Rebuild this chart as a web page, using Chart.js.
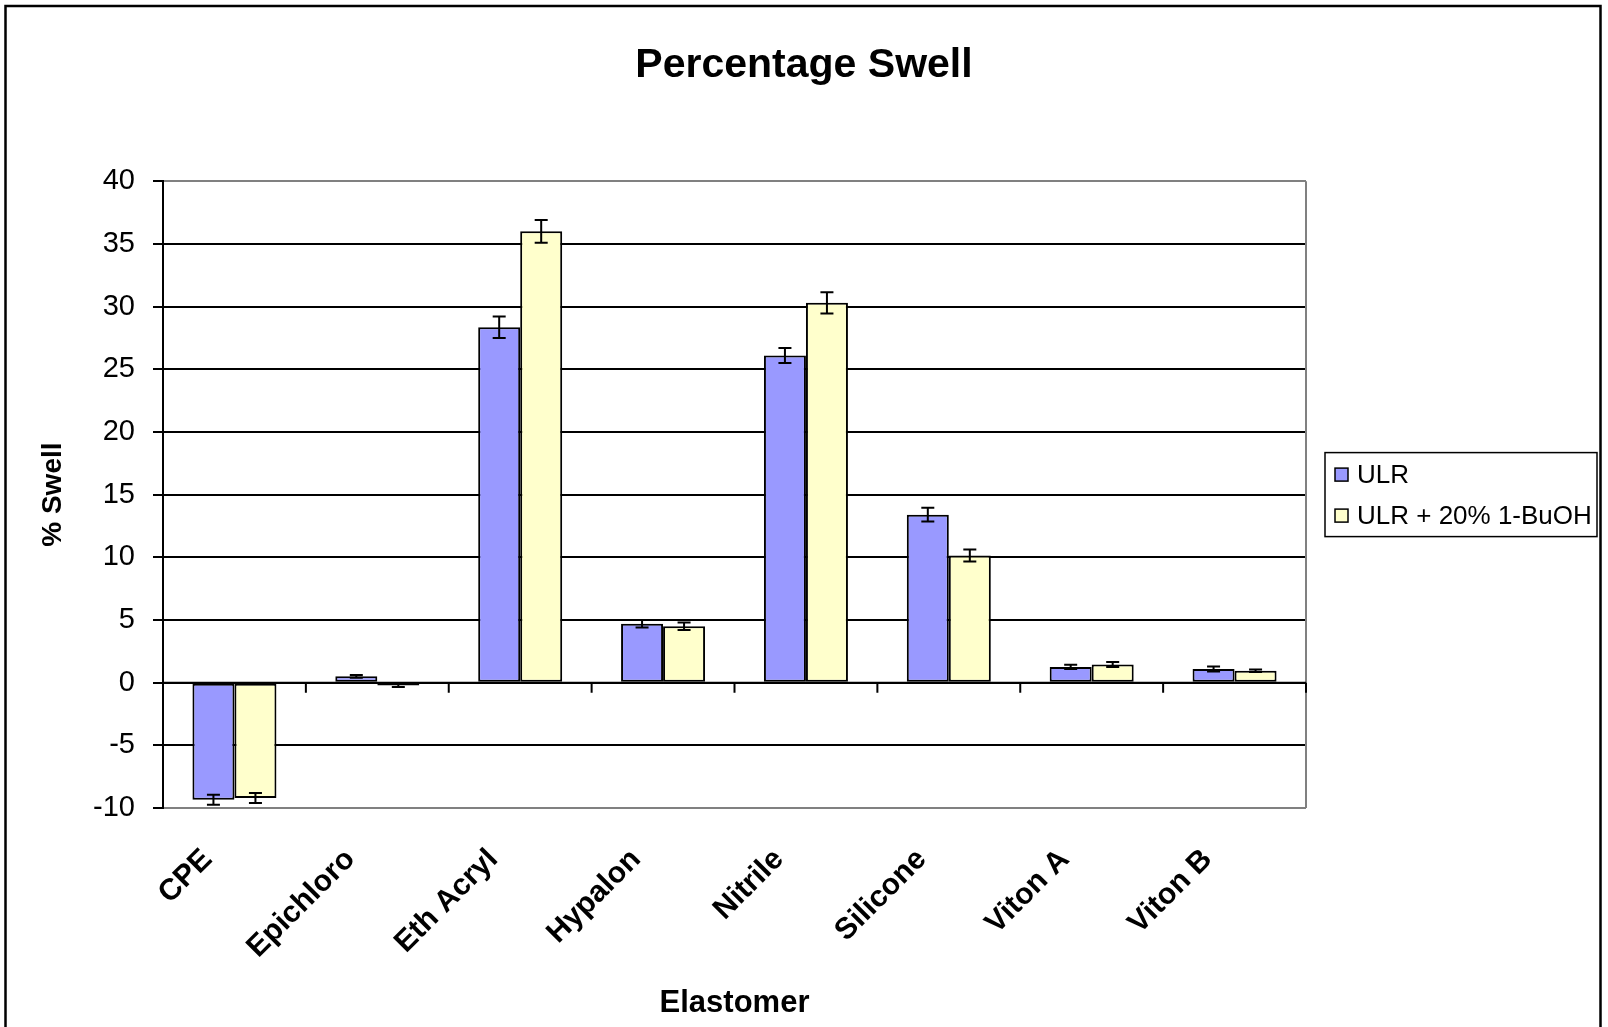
<!DOCTYPE html>
<html>
<head>
<meta charset="utf-8">
<script src="https://cdn.jsdelivr.net/npm/chart.js@4.4.1/dist/chart.umd.min.js"></script>
<style>
  html, body { margin: 0; padding: 0; background: #fff; }
  #wrap { width: 1608px; height: 1027px; position: relative; }
</style>
</head>
<body>
<div id="wrap"><canvas id="c"></canvas></div>
<script>
// ---- data ----
const categories = ['CPE', 'Epichloro', 'Eth Acryl', 'Hypalon', 'Nitrile', 'Silicone', 'Viton A', 'Viton B'];
const seriesNames = ['ULR', 'ULR + 20% 1-BuOH'];
const ulrValues  = [-9.35, 0.5, 28.35, 4.7, 26.1, 13.4, 1.25, 1.08];
const buohValues = [-9.2, -0.22, 36.0, 4.5, 30.3, 10.15, 1.45, 0.95];
const ulrErrors  = [0.4, 0.1, 0.85, 0.3, 0.6, 0.55, 0.17, 0.2];
const buohErrors = [0.4, 0.12, 0.9, 0.3, 0.85, 0.48, 0.2, 0.1];
const yTickValues = [-10, -5, 0, 5, 10, 15, 20, 25, 30, 35, 40];
const chartTitle = 'Percentage Swell';
const xTitle = 'Elastomer';
const yTitle = '% Swell';

const FONT = "'Liberation Sans', Arial, Helvetica, sans-serif";
const errorSets = [ulrErrors, buohErrors];

const framePlugin = {
  id: 'frame',
  beforeDraw(chart) {
    const c = chart.ctx;
    c.save();
    c.fillStyle = '#fff';
    c.fillRect(0, 0, chart.width, chart.height);
    c.strokeStyle = '#000';
    c.lineWidth = 2.5;
    c.strokeRect(5.5, 6, chart.width - 13, chart.height + 40);
    c.restore();
  }
};

const axisPlugin = {
  id: 'axisExtras',
  afterDatasetsDraw(chart) {
    const {ctx, chartArea: a, scales: {x, y}} = chart;
    ctx.save();
    ctx.strokeStyle = '#808080';
    ctx.lineWidth = 2;
    ctx.beginPath();
    ctx.moveTo(a.right, a.top);
    ctx.lineTo(a.right, a.bottom);
    ctx.stroke();
    const y0 = y.getPixelForValue(0);
    ctx.strokeStyle = '#000';
    ctx.beginPath();
    ctx.moveTo(a.left, y0);
    ctx.lineTo(a.right, y0);
    ctx.stroke();
    const half = (x.getPixelForValue(1) - x.getPixelForValue(0)) / 2;
    ctx.beginPath();
    for (let i = 0; i <= categories.length; i++) {
      const px = (i < categories.length ? x.getPixelForValue(i) - half : x.getPixelForValue(i - 1) + half);
      ctx.moveTo(px, y0);
      ctx.lineTo(px, y0 + 10);
    }
    ctx.stroke();
    ctx.lineWidth = 2;
    chart.data.datasets.forEach((ds, di) => {
      const meta = chart.getDatasetMeta(di);
      const errs = errorSets[di];
      meta.data.forEach((bar, j) => {
        const v = ds.data[j];
        const yt = y.getPixelForValue(v + errs[j]);
        const yb = y.getPixelForValue(v - errs[j]);
        ctx.beginPath();
        ctx.moveTo(bar.x, yt); ctx.lineTo(bar.x, yb);
        ctx.moveTo(bar.x - 6.5, yt); ctx.lineTo(bar.x + 6.5, yt);
        ctx.moveTo(bar.x - 6.5, yb); ctx.lineTo(bar.x + 6.5, yb);
        ctx.stroke();
      });
    });
    ctx.restore();
  }
};

const legendPlugin = {
  id: 'boxLegend',
  afterDraw(chart) {
    const {ctx, chartArea: a} = chart;
    const boxL = a.right + 19, boxW = 272, boxH = 84, rowH = 41;
    const boxT = (a.top + a.bottom) / 2 - boxH / 2;
    ctx.save();
    ctx.fillStyle = '#fff';
    ctx.fillRect(boxL, boxT, boxW, boxH);
    ctx.strokeStyle = '#000';
    ctx.lineWidth = 1.5;
    ctx.strokeRect(boxL, boxT, boxW, boxH);
    ctx.font = '26px ' + FONT;
    ctx.textBaseline = 'middle';
    ctx.textAlign = 'left';
    chart.data.datasets.forEach((ds, i) => {
      const cy = boxT + 22 + i * rowH;
      ctx.fillStyle = ds.backgroundColor;
      ctx.fillRect(boxL + 10, cy - 6.5, 13, 13);
      ctx.strokeStyle = '#000';
      ctx.lineWidth = 1.5;
      ctx.strokeRect(boxL + 10, cy - 6.5, 13, 13);
      ctx.fillStyle = '#000';
      ctx.fillText(ds.label, boxL + 32, cy + 1);
    });
    ctx.restore();
  }
};

new Chart(document.getElementById('c'), {
  type: 'bar',
  data: {
    labels: categories,
    datasets: [
      { label: seriesNames[0], data: ulrValues, backgroundColor: '#9999FF', borderColor: '#000', borderWidth: 2, borderSkipped: false },
      { label: seriesNames[1], data: buohValues, backgroundColor: '#FFFFCC', borderColor: '#000', borderWidth: 2, borderSkipped: false }
    ]
  },
  options: {
    responsive: true,
    maintainAspectRatio: false,
    animation: false,
    layout: { padding: 0 },
    datasets: { bar: { categoryPercentage: 0.588, barPercentage: 1.0 } },
    plugins: {
      legend: { display: false },
      tooltip: { enabled: false },
      title: {
        display: true,
        text: chartTitle,
        color: '#000',
        font: { family: FONT, size: 41, weight: 'bold' },
        padding: { top: 41, bottom: 91 }
      }
    },
    scales: {
      x: {
        type: 'category',
        position: 'bottom',
        grid: { display: false, drawTicks: false },
        border: { display: false },
        ticks: {
          color: '#000',
          font: { family: FONT, size: 30, weight: 'bold' },
          minRotation: 45, maxRotation: 45,
          autoSkip: false,
          padding: 34,
          labelOffset: -27
        },
        title: {
          display: true, text: xTitle, color: '#000',
          font: { family: FONT, size: 31, weight: 'bold' },
          padding: { top: 0, bottom: 5 }
        },
        afterFit(s) { s.height = 219; }
      },
      y: {
        position: 'left',
        min: yTickValues[0],
        max: yTickValues[yTickValues.length - 1],
        afterBuildTicks(s) { s.ticks = yTickValues.map(v => ({ value: v })); },
        grid: {
          color: (c) => (c.tick && (c.tick.value === yTickValues[0] || c.tick.value === yTickValues[yTickValues.length - 1])) ? '#808080' : '#000',
          tickColor: '#000',
          lineWidth: 2,
          drawTicks: true,
          tickLength: 10
        },
        border: { display: true, color: '#000', width: 2 },
        ticks: {
          color: '#000',
          font: { family: FONT, size: 29 },
          padding: 18
        },
        title: {
          display: true, text: yTitle, color: '#000',
          font: { family: FONT, size: 28, weight: 'bold' },
          padding: { top: 36, bottom: 0 }
        },
        afterFit(s) { s.width = 163; }
      },
      spacer: {
        type: 'linear',
        position: 'right',
        display: true,
        grid: { display: false, drawTicks: false },
        border: { display: false },
        ticks: { display: false },
        afterFit(s) { s.width = 302; }
      }
    }
  },
  plugins: [framePlugin, axisPlugin, legendPlugin]
});
</script>
</body>
</html>
